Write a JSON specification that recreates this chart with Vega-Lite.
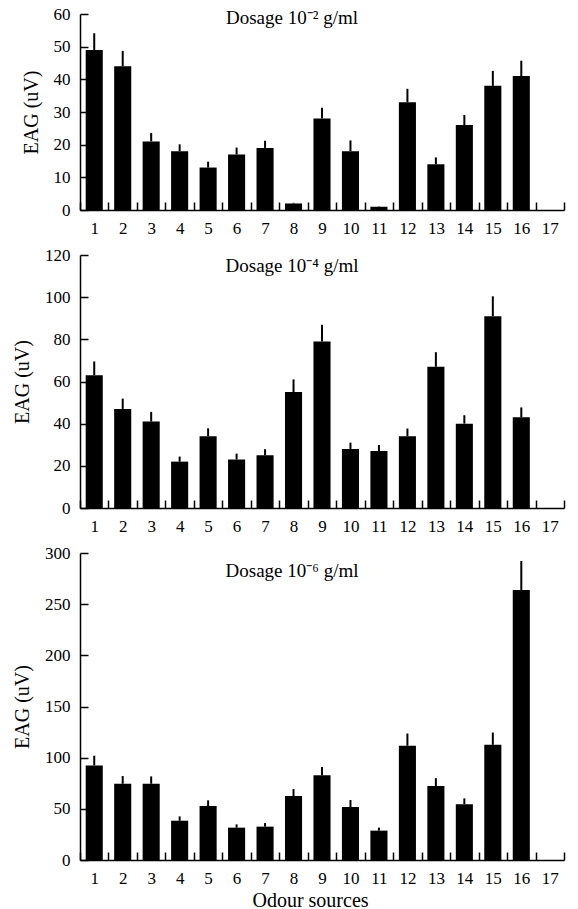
{
  "$schema": "https://vega.github.io/schema/vega-lite/v6.json",
  "padding": {"left": 12, "top": 5, "right": 5, "bottom": 0},
  "datasets": {
    "p1": [
      {"src": 1, "eag": 49, "upper": 54.1},
      {"src": 2, "eag": 44, "upper": 48.7},
      {"src": 3, "eag": 21, "upper": 23.6},
      {"src": 4, "eag": 18, "upper": 20.1},
      {"src": 5, "eag": 13, "upper": 14.8},
      {"src": 6, "eag": 17, "upper": 19.1},
      {"src": 7, "eag": 19, "upper": 21.2},
      {"src": 8, "eag": 2, "upper": 2.2},
      {"src": 9, "eag": 28, "upper": 31.3},
      {"src": 10, "eag": 18, "upper": 21.3},
      {"src": 11, "eag": 1, "upper": 1.1},
      {"src": 12, "eag": 33, "upper": 37.1},
      {"src": 13, "eag": 14, "upper": 16.1},
      {"src": 14, "eag": 26, "upper": 29.1},
      {"src": 15, "eag": 38, "upper": 42.6},
      {"src": 16, "eag": 41, "upper": 45.7}
    ],
    "p2": [
      {"src": 1, "eag": 63, "upper": 69.5},
      {"src": 2, "eag": 47, "upper": 51.9},
      {"src": 3, "eag": 41, "upper": 45.6},
      {"src": 4, "eag": 22, "upper": 24.4},
      {"src": 5, "eag": 34, "upper": 37.8},
      {"src": 6, "eag": 23, "upper": 25.8},
      {"src": 7, "eag": 25, "upper": 27.9},
      {"src": 8, "eag": 55, "upper": 61},
      {"src": 9, "eag": 79, "upper": 86.9},
      {"src": 10, "eag": 28, "upper": 31},
      {"src": 11, "eag": 27, "upper": 29.9},
      {"src": 12, "eag": 34, "upper": 37.7},
      {"src": 13, "eag": 67, "upper": 73.9},
      {"src": 14, "eag": 40, "upper": 44},
      {"src": 15, "eag": 91, "upper": 100.4},
      {"src": 16, "eag": 43, "upper": 47.7}
    ],
    "p3": [
      {"src": 1, "eag": 92.4, "upper": 101.9},
      {"src": 2, "eag": 74.5, "upper": 82},
      {"src": 3, "eag": 74.5, "upper": 81.7},
      {"src": 4, "eag": 38.4, "upper": 42.6},
      {"src": 5, "eag": 52.7, "upper": 58.3},
      {"src": 6, "eag": 31.6, "upper": 34.8},
      {"src": 7, "eag": 32.6, "upper": 36.1},
      {"src": 8, "eag": 62.5, "upper": 69.3},
      {"src": 9, "eag": 82.7, "upper": 90.8},
      {"src": 10, "eag": 51.7, "upper": 58.6},
      {"src": 11, "eag": 28.7, "upper": 31.6},
      {"src": 12, "eag": 111.6, "upper": 123.6},
      {"src": 13, "eag": 72.2, "upper": 80},
      {"src": 14, "eag": 54.4, "upper": 60.2},
      {"src": 15, "eag": 112.6, "upper": 124.6},
      {"src": 16, "eag": 263.9, "upper": 292.2}
    ]
  },
  "config": {
    "font": "Liberation Serif",
    "view": {"stroke": null},
    "axis": {
      "domainColor": "black", "tickColor": "black", "labelColor": "black", "titleColor": "black",
      "labelFont": "Liberation Serif", "titleFont": "Liberation Serif",
      "labelFontSize": 17, "titleFontSize": 20, "titleFontWeight": "normal",
      "grid": false, "domainWidth": 1.5, "tickWidth": 1.5, "tickSize": -8
    },
    "axisX": {"labelAngle": 0, "tickBand": "extent", "labelPadding": 18, "labelFont": "Liberation Serif", "titleFont": "Liberation Serif"},
    "axisY": {"labelPadding": 18, "titlePadding": 12, "labelFont": "Liberation Serif", "titleFont": "Liberation Serif", "labelOverlap": false},
    "title": {"font": "Liberation Serif", "fontSize": 19, "fontWeight": "normal", "color": "black", "baseline": "alphabetic", "frame": "group"}
  },
  "spacing": 10,
  "vconcat": [
    {
      "width": 484, "height": 196,
      "title": {"text": "Dosage 10⁻² g/ml", "offset": -23, "dx": -30},
      "data": {"name": "p1"},
      "encoding": {
        "x": {"field": "src", "type": "ordinal", "scale": {"domain": [1,2,3,4,5,6,7,8,9,10,11,12,13,14,15,16,17], "paddingInner": 0, "paddingOuter": 0}, "axis": {"title": null}},
        "y": {"field": "eag", "type": "quantitative", "scale": {"domain": [0, 60], "nice": false}, "axis": {"values": [0,10,20,30,40,50,60], "title": "EAG (uV)"}}
      },
      "layer": [
        {"mark": {"type": "bar", "color": "black", "width": {"band": 0.6}}},
        {"mark": {"type": "rule", "color": "black", "strokeWidth": 2},
         "encoding": {"y2": {"field": "upper"}}}
      ]
    },
    {
      "width": 484, "height": 253,
      "title": {"text": "Dosage 10⁻⁴ g/ml", "offset": -30, "dx": -30},
      "data": {"name": "p2"},
      "encoding": {
        "x": {"field": "src", "type": "ordinal", "scale": {"domain": [1,2,3,4,5,6,7,8,9,10,11,12,13,14,15,16,17], "paddingInner": 0, "paddingOuter": 0}, "axis": {"title": null}},
        "y": {"field": "eag", "type": "quantitative", "scale": {"domain": [0, 120], "nice": false}, "axis": {"values": [0,20,40,60,80,100,120], "title": "EAG (uV)"}}
      },
      "layer": [
        {"mark": {"type": "bar", "color": "black", "width": {"band": 0.6}}},
        {"mark": {"type": "rule", "color": "black", "strokeWidth": 2},
         "encoding": {"y2": {"field": "upper"}}}
      ]
    },
    {
      "width": 484, "height": 307,
      "title": {"text": "Dosage 10⁻⁶ g/ml", "offset": -37, "dx": -30},
      "data": {"name": "p3"},
      "encoding": {
        "x": {"field": "src", "type": "ordinal", "scale": {"domain": [1,2,3,4,5,6,7,8,9,10,11,12,13,14,15,16,17], "paddingInner": 0, "paddingOuter": 0}, "axis": {"title": "Odour sources", "titleX": 230}},
        "y": {"field": "eag", "type": "quantitative", "scale": {"domain": [0, 300], "nice": false}, "axis": {"values": [0,50,100,150,200,250,300], "title": "EAG (uV)"}}
      },
      "layer": [
        {"mark": {"type": "bar", "color": "black", "width": {"band": 0.6}}},
        {"mark": {"type": "rule", "color": "black", "strokeWidth": 2},
         "encoding": {"y2": {"field": "upper"}}}
      ]
    }
  ]
}
